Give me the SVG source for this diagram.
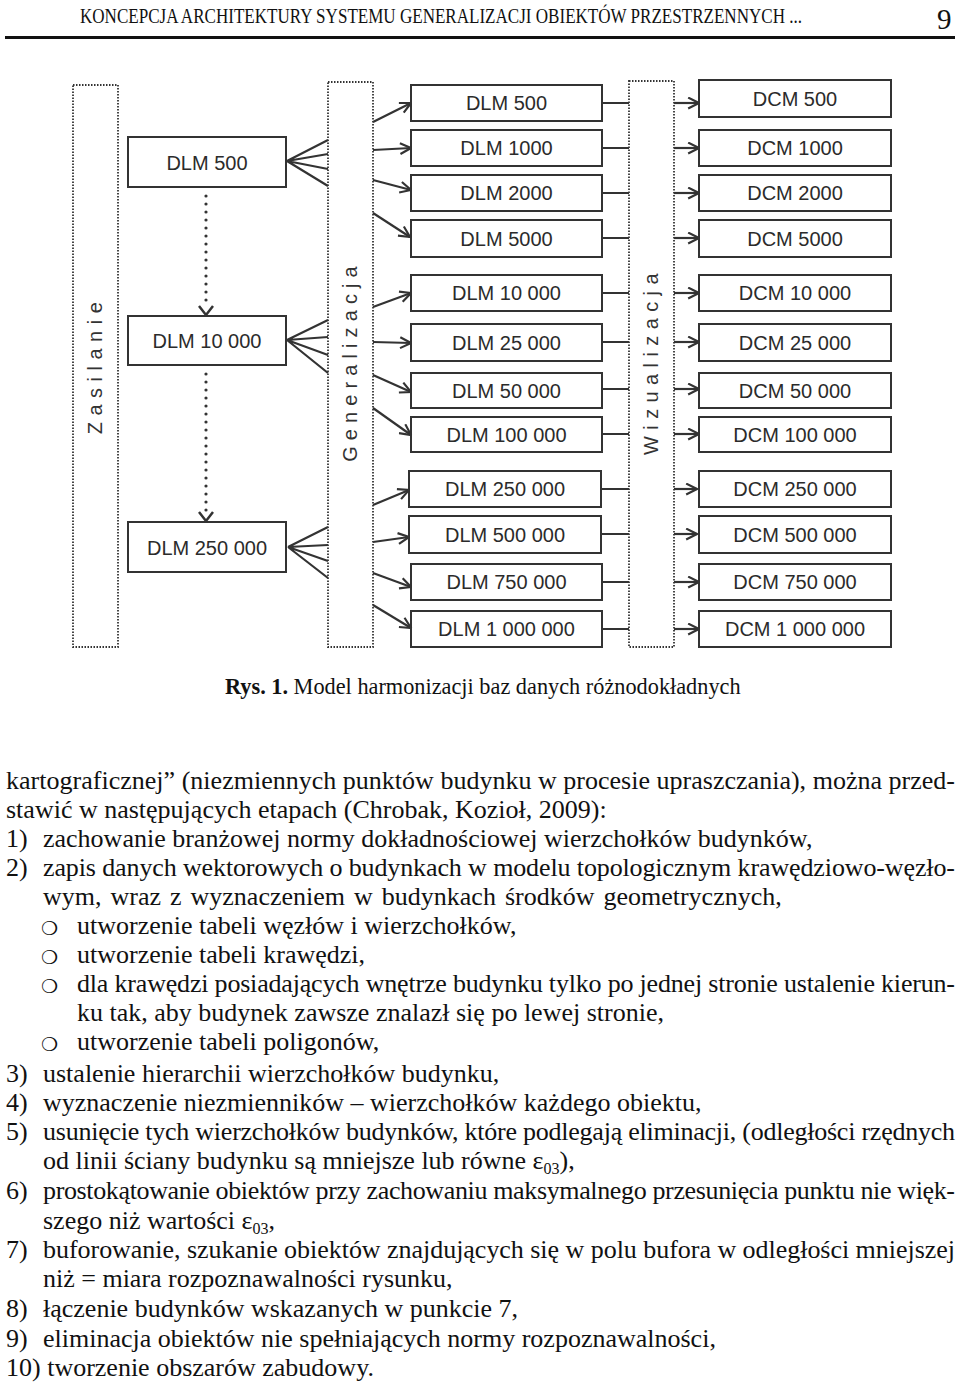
<svg xmlns="http://www.w3.org/2000/svg" width="960" height="1386" viewBox="0 0 960 1386">
<style>
.box{fill:#fff;stroke:#333;stroke-width:2}
.bt{font-family:"Liberation Sans",Arial,sans-serif;font-size:20px;fill:#2b2b2b;text-anchor:middle}
.dotbox{fill:none;stroke:#333;stroke-width:1.8;stroke-dasharray:1.5 1.5}
.vlab{font-family:"Liberation Sans",Arial,sans-serif;font-size:20px;fill:#333;text-anchor:middle}
.ln{stroke:#333;stroke-width:2.2;fill:none}
.ar{stroke:#333;stroke-width:2.2;fill:none;marker-end:url(#arr)}
.dots{stroke:#333;stroke-width:3.2;stroke-linecap:round;stroke-dasharray:0 8;fill:none}
.chev{stroke:#333;stroke-width:2.5;fill:none}
.tx{font-family:"Liberation Serif","Times New Roman",serif;font-size:26px;fill:#111}
.bul{font-family:"DejaVu Sans",sans-serif;font-size:19px;fill:#111}
</style>
<defs>
<marker id="arr" viewBox="0 0 12 12" refX="11" refY="6" markerWidth="13" markerHeight="13" markerUnits="userSpaceOnUse" orient="auto"><path d="M1,1 L11,6 L1,11" fill="none" stroke="#333" stroke-width="2"/></marker>
</defs>
<rect width="960" height="1386" fill="#fff"/>

<g id="header">
<text x="80" y="23" font-family="Liberation Serif,serif" font-size="20" fill="#111" textLength="722" lengthAdjust="spacingAndGlyphs">KONCEPCJA ARCHITEKTURY SYSTEMU GENERALIZACJI OBIEKTÓW PRZESTRZENNYCH ...</text>
<text x="937" y="29" font-family="Liberation Serif,serif" font-size="29" fill="#111">9</text>
<line x1="5" y1="37.5" x2="955" y2="37.5" stroke="#111" stroke-width="3"/>
</g>

<g id="zasilanie"><rect class="dotbox" x="73" y="85" width="45" height="562"/><text class="vlab" letter-spacing="6.5" transform="translate(102,365) rotate(-90)">Zasilanie</text></g>
<g id="generalizacja"><rect class="dotbox" x="328" y="82" width="45" height="565"/><text class="vlab" letter-spacing="6.1" transform="translate(357,361) rotate(-90)">Generalizacja</text></g>
<g id="wizualizacja"><rect class="dotbox" x="629" y="81" width="45" height="566"/><text class="vlab" letter-spacing="6.4" transform="translate(658,361) rotate(-90)">Wizualizacja</text></g>

<g id="src500"><rect class="box" x="128" y="137" width="158" height="50"/><text class="bt" x="207" y="169.5">DLM 500</text></g>
<g id="src10000"><rect class="box" x="128" y="316" width="158" height="49"/><text class="bt" x="207" y="348">DLM 10 000</text></g>
<g id="src250000"><rect class="box" x="128" y="522" width="158" height="50"/><text class="bt" x="207" y="554.5">DLM 250 000</text></g>

<g id="dlm500"><rect class="box" x="411" y="85" width="191" height="36"/><text class="bt" x="506.5" y="110">DLM 500</text></g>
<g id="dlm1000"><rect class="box" x="411" y="130" width="191" height="36"/><text class="bt" x="506.5" y="155">DLM 1000</text></g>
<g id="dlm2000"><rect class="box" x="411" y="175" width="191" height="36"/><text class="bt" x="506.5" y="200">DLM 2000</text></g>
<g id="dlm5000"><rect class="box" x="411" y="220" width="191" height="37"/><text class="bt" x="506.5" y="245.5">DLM 5000</text></g>
<g id="dlm10000"><rect class="box" x="411" y="275" width="191" height="36"/><text class="bt" x="506.5" y="300">DLM 10 000</text></g>
<g id="dlm25000"><rect class="box" x="411" y="324" width="191" height="37"/><text class="bt" x="506.5" y="349.5">DLM 25 000</text></g>
<g id="dlm50000"><rect class="box" x="411" y="373" width="191" height="35"/><text class="bt" x="506.5" y="397.5">DLM 50 000</text></g>
<g id="dlm100000"><rect class="box" x="411" y="417" width="191" height="35"/><text class="bt" x="506.5" y="441.5">DLM 100 000</text></g>
<g id="dlm250000"><rect class="box" x="409" y="471" width="192" height="36"/><text class="bt" x="505" y="496">DLM 250 000</text></g>
<g id="dlm500000"><rect class="box" x="409" y="516" width="192" height="37"/><text class="bt" x="505" y="541.5">DLM 500 000</text></g>
<g id="dlm750000"><rect class="box" x="411" y="564" width="191" height="36"/><text class="bt" x="506.5" y="589">DLM 750 000</text></g>
<g id="dlm1000000"><rect class="box" x="411" y="611" width="191" height="36"/><text class="bt" x="506.5" y="636">DLM 1 000 000</text></g>

<g id="dcm500"><rect class="box" x="699" y="80" width="192" height="37"/><text class="bt" x="795" y="105.5">DCM 500</text></g>
<g id="dcm1000"><rect class="box" x="699" y="130" width="192" height="36"/><text class="bt" x="795" y="155">DCM 1000</text></g>
<g id="dcm2000"><rect class="box" x="699" y="175" width="192" height="36"/><text class="bt" x="795" y="200">DCM 2000</text></g>
<g id="dcm5000"><rect class="box" x="699" y="220" width="192" height="37"/><text class="bt" x="795" y="245.5">DCM 5000</text></g>
<g id="dcm10000"><rect class="box" x="699" y="275" width="192" height="36"/><text class="bt" x="795" y="300">DCM 10 000</text></g>
<g id="dcm25000"><rect class="box" x="699" y="324" width="192" height="37"/><text class="bt" x="795" y="349.5">DCM 25 000</text></g>
<g id="dcm50000"><rect class="box" x="699" y="373" width="192" height="35"/><text class="bt" x="795" y="397.5">DCM 50 000</text></g>
<g id="dcm100000"><rect class="box" x="699" y="417" width="192" height="35"/><text class="bt" x="795" y="441.5">DCM 100 000</text></g>
<g id="dcm250000"><rect class="box" x="699" y="471" width="192" height="36"/><text class="bt" x="795" y="496">DCM 250 000</text></g>
<g id="dcm500000"><rect class="box" x="699" y="516" width="192" height="37"/><text class="bt" x="795" y="541.5">DCM 500 000</text></g>
<g id="dcm750000"><rect class="box" x="699" y="564" width="192" height="36"/><text class="bt" x="795" y="589">DCM 750 000</text></g>
<g id="dcm1000000"><rect class="box" x="699" y="611" width="192" height="36"/><text class="bt" x="795" y="636">DCM 1 000 000</text></g>

<g id="connectors">
<line class="dots" x1="206" y1="196" x2="206" y2="306"/>
<path class="chev" d="M199,306 L206,315 L213,306"/>
<line class="dots" x1="206" y1="374" x2="206" y2="512"/>
<path class="chev" d="M199,512 L206,521 L213,512"/>

<path class="ln" d="M287,161 L328,140 M287,161 L328,154 M287,161 L328,169 M287,161 L328,186"/>
<path class="ln" d="M287,340 L328,320 M287,340 L328,337 M287,340 L328,355 M287,340 L328,373"/>
<path class="ln" d="M288,547 L328,527 M288,547 L328,545 M288,547 L328,561 M288,547 L328,578"/>

<line class="ar" x1="373" y1="122" x2="411" y2="103"/>
<line class="ar" x1="373" y1="150" x2="411" y2="148"/>
<line class="ar" x1="373" y1="180" x2="411" y2="190"/>
<line class="ar" x1="373" y1="213" x2="410" y2="237"/>
<line class="ar" x1="373" y1="307" x2="411" y2="293"/>
<line class="ar" x1="373" y1="342" x2="411" y2="343"/>
<line class="ar" x1="373" y1="375" x2="411" y2="392"/>
<line class="ar" x1="373" y1="408" x2="411" y2="435"/>
<line class="ar" x1="373" y1="505" x2="409" y2="490"/>
<line class="ar" x1="373" y1="542" x2="409" y2="537"/>
<line class="ar" x1="373" y1="573" x2="411" y2="587"/>
<line class="ar" x1="373" y1="605" x2="411" y2="628"/>

<path class="ln" d="M603,103 H629 M603,148 H629 M603,193 H629 M603,238 H629 M603,293 H629 M603,342 H629 M603,389 H629 M603,434 H629 M602,489 H629 M602,534 H629 M603,582 H629 M603,629 H629"/>
<line class="ar" x1="674" y1="103" x2="699" y2="103"/>
<line class="ar" x1="674" y1="148" x2="699" y2="148"/>
<line class="ar" x1="674" y1="193" x2="699" y2="193"/>
<line class="ar" x1="674" y1="238" x2="699" y2="238"/>
<line class="ar" x1="674" y1="293" x2="699" y2="293"/>
<line class="ar" x1="674" y1="342" x2="699" y2="342"/>
<line class="ar" x1="674" y1="389" x2="699" y2="389"/>
<line class="ar" x1="674" y1="434" x2="699" y2="434"/>
<line class="ar" x1="674" y1="489" x2="697" y2="489"/>
<line class="ar" x1="674" y1="534" x2="697" y2="534"/>
<line class="ar" x1="674" y1="582" x2="699" y2="582"/>
<line class="ar" x1="674" y1="629" x2="699" y2="629"/>
</g>

<g id="caption">
<text x="225" y="694" font-family="Liberation Serif,serif" font-size="22.3" fill="#111"><tspan font-weight="bold">Rys. 1.</tspan> Model harmonizacji baz danych różnodokładnych</text>
</g>

<g id="body">
<text class="tx" x="6" y="789" textLength="949" lengthAdjust="spacing">kartograficznej” (niezmiennych punktów budynku w procesie upraszczania), można przed-</text>
<text class="tx" x="6" y="818">stawić w następujących etapach (Chrobak, Kozioł, 2009):</text>
<text class="tx" x="6" y="847">1)</text><text class="tx" x="43" y="847">zachowanie branżowej normy dokładnościowej wierzchołków budynków,</text>
<text class="tx" x="6" y="876">2)</text><text class="tx" x="43" y="876" textLength="912" lengthAdjust="spacing">zapis danych wektorowych o budynkach w modelu topologicznym krawędziowo-węzło-</text>
<text class="tx" x="43" y="905" word-spacing="2.5">wym, wraz z wyznaczeniem w budynkach środków geometrycznych,</text>
<text class="bul" x="41" y="935">❍</text><text class="tx" x="77" y="934">utworzenie tabeli węzłów i wierzchołków,</text>
<text class="bul" x="41" y="964">❍</text><text class="tx" x="77" y="963">utworzenie tabeli krawędzi,</text>
<text class="bul" x="41" y="993">❍</text><text class="tx" x="77" y="992" textLength="878" lengthAdjust="spacing">dla krawędzi posiadających wnętrze budynku tylko po jednej stronie ustalenie kierun-</text>
<text class="tx" x="77" y="1021">ku tak, aby budynek zawsze znalazł się po lewej stronie,</text>
<text class="bul" x="41" y="1051">❍</text><text class="tx" x="77" y="1050">utworzenie tabeli poligonów,</text>
<text class="tx" x="6" y="1082">3)</text><text class="tx" x="43" y="1082">ustalenie hierarchii wierzchołków budynku,</text>
<text class="tx" x="6" y="1111">4)</text><text class="tx" x="43" y="1111">wyznaczenie niezmienników – wierzchołków każdego obiektu,</text>
<text class="tx" x="6" y="1140">5)</text><text class="tx" x="43" y="1140" textLength="912" lengthAdjust="spacing">usunięcie tych wierzchołków budynków, które podlegają eliminacji, (odległości rzędnych</text>
<text class="tx" x="43" y="1169">od linii ściany budynku są mniejsze lub równe ε<tspan font-size="16" dy="5">03</tspan><tspan dy="-5">),</tspan></text>
<text class="tx" x="6" y="1199">6)</text><text class="tx" x="43" y="1199" textLength="912" lengthAdjust="spacing">prostokątowanie obiektów przy zachowaniu maksymalnego przesunięcia punktu nie więk-</text>
<text class="tx" x="43" y="1229">szego niż wartości ε<tspan font-size="16" dy="5">03</tspan><tspan dy="-5">,</tspan></text>
<text class="tx" x="6" y="1258">7)</text><text class="tx" x="43" y="1258" textLength="912" lengthAdjust="spacing">buforowanie, szukanie obiektów znajdujących się w polu bufora w odległości mniejszej</text>
<text class="tx" x="43" y="1287">niż = miara rozpoznawalności rysunku,</text>
<text class="tx" x="6" y="1317">8)</text><text class="tx" x="43" y="1317">łączenie budynków wskazanych w punkcie 7,</text>
<text class="tx" x="6" y="1347">9)</text><text class="tx" x="43" y="1347">eliminacja obiektów nie spełniających normy rozpoznawalności,</text>
<text class="tx" x="6" y="1376">10) tworzenie obszarów zabudowy.</text>
</g>
</svg>
